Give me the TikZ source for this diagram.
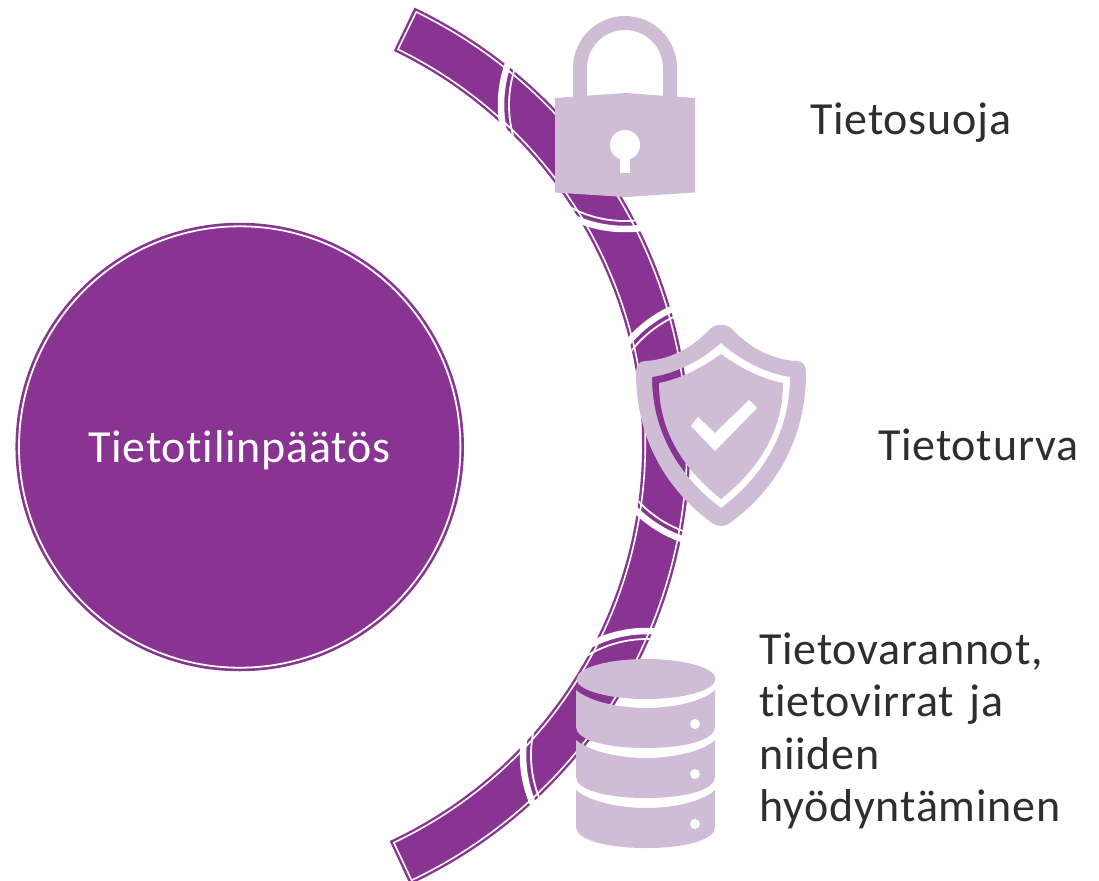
\documentclass[tikz,border=0pt]{standalone}
\usepackage{fontspec}
\setmainfont{Carlito}
\newfontfamily\labfont[LetterSpace=1.7,Ligatures=NoCommon,WordSpace=0.7]{Carlito}
\definecolor{purp}{HTML}{893392}
\definecolor{lite}{HTML}{CFBDD5}
\definecolor{ink}{HTML}{2E2E2E}
\tikzset{
  lab/.style={text=ink,font=\labfont\fontsize{46}{52.4}\selectfont,inner sep=0pt,align=left},
  thick ring/.style={draw=white,line width=6.5pt},
  thin ring/.style={draw=white,line width=1.8pt},
}
\newcommand{\sector}[4]{% radius out, radius in, upper angle, lower angle
  ([shift={(-#3:#1)}]205,445) arc[start angle=-#3,end angle=#4,radius=#1]
  -- ([shift={(#4:#2)}]205,445) arc[start angle=#4,end angle=-#3,radius=#2] -- cycle}
\newcommand{\diskpath}[1]{%
  (576,690+#1) .. controls (590,702+#1) and (620,708+#1) .. (646,708+#1)
  .. controls (672,708+#1) and (702,702+#1) .. (715,690+#1) -- (715,727+#1)
  .. controls (715,740+#1) and (685,748+#1) .. (646,748+#1)
  .. controls (607,748+#1) and (576,740+#1) .. (576,727+#1) -- cycle}
\begin{document}
\begin{tikzpicture}[x=1pt,y=1pt,yscale=-1]
\useasboundingbox (0,0) rectangle (1099,880);
% central circle
\node[circle,fill=purp,minimum size=448.5pt,inner sep=0pt] (hub) at (239.7,447) {};
\draw[white,line width=1.8pt] (239.7,447) circle[radius=220.7];
\node[text=white,font=\labfont\fontsize{46}{52.4}\selectfont,inner sep=0pt,anchor=base] (hubtext) at (239.5,462) {Tietotilinpäätös};
% band
\fill[purp] \sector{485}{437}{64.4}{65};
\draw[white,line width=1.6pt] \sector{481.8}{440.2}{64}{64.6};
\begin{scope}
  \clip \sector{490}{432}{66}{66};
  \foreach \cx/\cy in {625/105,723/422,647/755}
    \draw[thick ring] (\cx,\cy) circle[radius=124];
\end{scope}
\begin{scope}
  \clip \sector{485}{437}{64}{64};
  \foreach \cx/\cy in {625/105,723/422,647/755}
    \draw[thin ring] (\cx,\cy) circle[radius=116];
\end{scope}
% lock
\fill[lite,even odd rule] (573,100) -- (573,68) arc[start angle=180,end angle=360,radius=52] -- (677,100) -- (663,100) -- (663,68) arc[start angle=360,end angle=180,radius=38] -- (587,100) -- cycle;
\fill[lite] (555,98) -- (625,93) -- (695,98) -- (695,192.5) -- (625,197) -- (555,192.5) -- cycle;
\fill[white] (625,145) circle[radius=15];
\fill[white] (620,150) rectangle (630,173);
% shield
\fill[lite,even odd rule]
  (709,330) .. controls (715,323) and (727,323) .. (733,330)
  .. controls (752,350) and (775,360) .. (797,361)
  .. controls (803,361) and (806,366) .. (806,372)
  .. controls (806,440) and (775,490) .. (730,523)
  .. controls (725,527) and (717,527) .. (712,523)
  .. controls (667,490) and (636,440) .. (636,372)
  .. controls (636,366) and (639,361) .. (645,361)
  .. controls (667,360) and (690,350) .. (709,330) -- cycle
  (721,343) .. controls (740,360) and (765,373) .. (790,377)
  .. controls (790,430) and (765,475) .. (721,508)
  .. controls (677,475) and (652,430) .. (652,377)
  .. controls (677,373) and (702,360) .. (721,343) -- cycle
  (721,354) .. controls (740,368) and (762,379) .. (783,383)
  .. controls (783,430) and (760,468) .. (721,499)
  .. controls (682,468) and (659,430) .. (659,383)
  .. controls (680,379) and (702,368) .. (721,354) -- cycle;
\fill[white] (757,408) -- (749,400) -- (715,433) -- (698,417) -- (691,426) -- (715,451) -- cycle;
% database
\fill[lite] (646,679) ellipse[x radius=69.5,y radius=20];
\foreach \d in {0,50,100} {
  \fill[lite] \diskpath{\d};
  \fill[white] (695,724+\d) circle[radius=5];
}
% labels
\node[lab,anchor=base west] (t1) at (810,134) {Tietosuoja};
\node[lab,anchor=base west] (t2) at (878,460) {Tietoturva};
\node[lab,anchor=west,text width=330pt] (t3) at (759,731) {Tietovarannot,\\tietovirrat ja\\niiden\\hyödyntäminen};
\end{tikzpicture}
\end{document}
